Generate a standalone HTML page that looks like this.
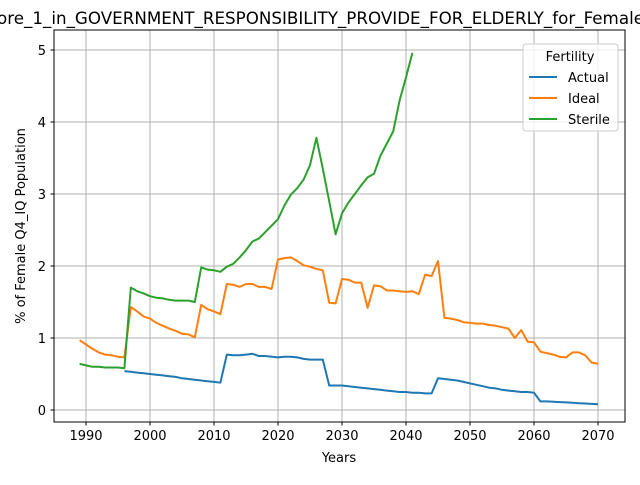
<!DOCTYPE html>
<html><head><meta charset="utf-8"><style>
body{margin:0;background:#fff;}
svg text{font-family:"DejaVu Sans","Liberation Sans",sans-serif;fill:#000;}
</style></head><body>
<svg id="chart" width="640" height="480" viewBox="0 0 640 480" xmlns="http://www.w3.org/2000/svg">
<rect x="0" y="0" width="640" height="480" fill="#fff"/>
<text x="-3" y="24" font-size="16.5" textLength="647" lengthAdjust="spacingAndGlyphs">ore_1_in_GOVERNMENT_RESPONSIBILITY_PROVIDE_FOR_ELDERLY_for_Female</text>
<g id="grid"></g>
<g id="series"></g>
<rect x="54" y="30" width="571" height="392" fill="none" stroke="#000" stroke-width="1"/>
<g id="ticks"></g>
<text x="339" y="462" font-size="13" text-anchor="middle">Years</text>
<text transform="translate(25,226) rotate(-90)" font-size="13" text-anchor="middle">% of Female Q4_IQ Population</text>
<g>
<rect x="523" y="44" width="95" height="87" rx="3" fill="#fff" fill-opacity="0.8" stroke="#ccc"/>
<text x="570" y="61" font-size="13" text-anchor="middle">Fertility</text>
<line x1="529" y1="77" x2="557" y2="77" stroke="#1f77b4" stroke-width="2"/>
<text x="568" y="82" font-size="13">Actual</text>
<line x1="529" y1="98" x2="557" y2="98" stroke="#ff7f0e" stroke-width="2"/>
<text x="568" y="103" font-size="13">Ideal</text>
<line x1="529" y1="119" x2="557" y2="119" stroke="#2ca02c" stroke-width="2"/>
<text x="568" y="124" font-size="13">Sterile</text>
</g>
</svg>
<script>
const xTicks = [1990, 2000, 2010, 2020, 2030, 2040, 2050, 2060, 2070];
const yTicks = [0, 1, 2, 3, 4, 5];
const actualStart = 1996;
const actualValues = [0.54,0.53,0.52,0.51,0.50,0.49,0.48,0.47,0.46,0.44,0.43,0.42,0.41,0.40,0.39,0.38,0.77,0.76,0.76,0.77,0.78,0.75,0.75,0.74,0.73,0.74,0.74,0.73,0.71,0.70,0.70,0.70,0.34,0.34,0.34,0.33,0.32,0.31,0.30,0.29,0.28,0.27,0.26,0.25,0.25,0.24,0.24,0.23,0.23,0.44,0.43,0.42,0.41,0.39,0.37,0.35,0.33,0.31,0.30,0.28,0.27,0.26,0.25,0.25,0.24,0.12,0.12,0.115,0.11,0.105,0.10,0.095,0.09,0.085,0.08];
const idealStart = 1989;
const idealValues = [0.97,0.91,0.85,0.80,0.77,0.76,0.74,0.73,1.43,1.37,1.30,1.27,1.21,1.17,1.13,1.10,1.06,1.05,1.01,1.46,1.40,1.37,1.33,1.75,1.74,1.71,1.75,1.75,1.71,1.71,1.68,2.09,2.11,2.12,2.07,2.01,1.99,1.96,1.94,1.49,1.48,1.82,1.81,1.77,1.77,1.42,1.73,1.72,1.66,1.66,1.65,1.64,1.65,1.61,1.88,1.86,2.07,1.28,1.27,1.25,1.22,1.21,1.20,1.20,1.18,1.17,1.15,1.13,1.00,1.11,0.95,0.94,0.81,0.79,0.77,0.74,0.73,0.80,0.80,0.76,0.66,0.64];
const sterileStart = 1989;
const sterileValues = [0.64,0.62,0.60,0.60,0.59,0.59,0.59,0.58,1.70,1.65,1.62,1.58,1.56,1.55,1.53,1.52,1.52,1.52,1.50,1.98,1.95,1.94,1.92,1.99,2.03,2.12,2.22,2.34,2.38,2.47,2.56,2.65,2.84,2.99,3.08,3.20,3.40,3.78,3.35,2.90,2.44,2.73,2.88,3.00,3.12,3.23,3.28,3.53,3.70,3.87,4.30,4.62,4.96];

const NS = 'http://www.w3.org/2000/svg';
function xs(v){ return 86 + (v - 1990) * 6.4; }
function ys(v){ return 410 - v * 72; }
const grid = document.getElementById('grid');
const ticks = document.getElementById('ticks');
const series = document.getElementById('series');
function mk(tag, attrs, parent){ const e = document.createElementNS(NS, tag); for (const k in attrs) e.setAttribute(k, attrs[k]); parent.appendChild(e); return e; }
xTicks.forEach(t => {
  const x = xs(t);
  const g = mk('line', {x1:x, x2:x, y1:30, y2:422, stroke:'#b0b0b0', 'stroke-width':1}, grid);
  
  
  const tk = mk('line', {x1:x, x2:x, y1:422, y2:425.5, stroke:'#000'}, ticks);
  
  
  const lb = mk('text', {x:x, y:440, 'font-size':13, 'text-anchor':'middle'}, ticks);
  lb.textContent = t;
  
  
});
yTicks.forEach(t => {
  const y = ys(t);
  const g = mk('line', {x1:54, x2:625, y1:y, y2:y, stroke:'#b0b0b0', 'stroke-width':1}, grid);
  
  
  const tk = mk('line', {x1:50.5, x2:54, y1:y, y2:y, stroke:'#000'}, ticks);
  
  
  const lb = mk('text', {x:46, y:y+5, 'font-size':13, 'text-anchor':'end'}, ticks);
  lb.textContent = t;
  
  
});
function drawLine(start, vals, color, name){
  const d = vals.map((v,i) => (i ? 'L' : 'M') + xs(start + i).toFixed(1) + ',' + ys(v).toFixed(1)).join(' ');
  const p = mk('path', {d:d, fill:'none', stroke:color, 'stroke-width':2, 'stroke-linejoin':'round'}, series);
  
  
}
drawLine(actualStart, actualValues, '#1f77b4', 'actual-line');
drawLine(idealStart, idealValues, '#ff7f0e', 'ideal-line');
drawLine(sterileStart, sterileValues, '#2ca02c', 'sterile-line');
</script>
</body></html>
